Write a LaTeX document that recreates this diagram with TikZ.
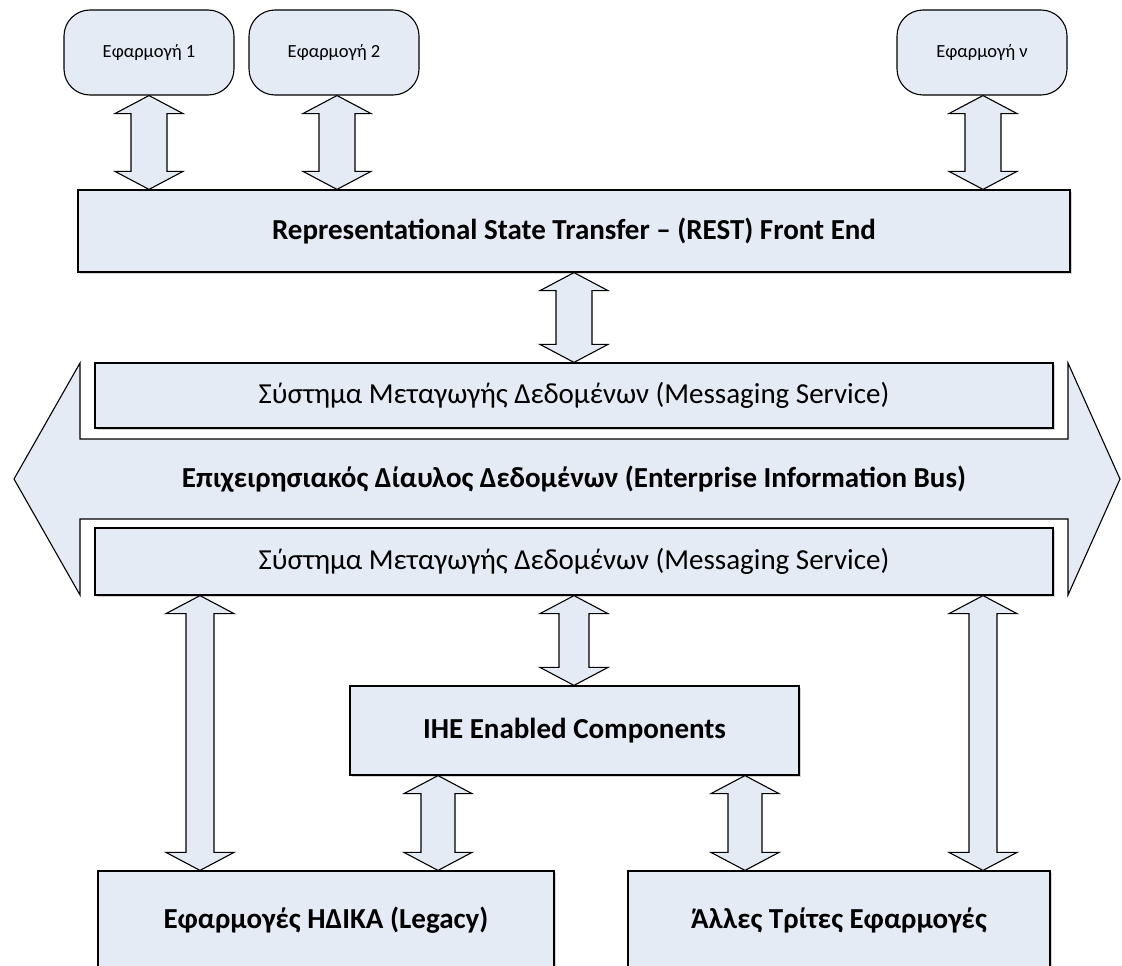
\documentclass[tikz,border=0pt]{standalone}
\usepackage{fontspec}
\setmainfont{Carlito}
\usetikzlibrary{positioning,shadows,calc}

\definecolor{boxfill}{RGB}{229,235,245}

\tikzset{
  box/.style={draw=black, fill=boxfill, line width=1.2pt, inner sep=0pt,
    drop shadow={shadow xshift=2pt, shadow yshift=-2pt, opacity=.35}},
  appbox/.style={draw=black, fill=boxfill, line width=1.1pt, inner sep=0pt,
    rounded corners=26pt, minimum width=170pt, minimum height=85pt,
    font=\fontsize{18.5}{22}\selectfont},
  blockarrow/.style={draw=black, fill=boxfill, line width=1.1pt, line join=miter},
  big/.style={font=\fontsize{29}{34}\selectfont\bfseries},
  plain/.style={font=\fontsize{29}{34}\selectfont},
}

% double block arrow: [half shaft]{x}{upper node}{lower node}
\newcommand{\dblarrow}[4][18]{%
  \draw[blockarrow] let \p1=(#3.south), \p2=(#4.north) in
    (#2pt,\y1) -- ({#2pt+34pt},{\y1-18pt}) -- ({#2pt+#1pt},{\y1-18pt})
    -- ({#2pt+#1pt},{\y2+18pt}) -- ({#2pt+34pt},{\y2+18pt}) -- (#2pt,\y2)
    -- ({#2pt-34pt},{\y2+18pt}) -- ({#2pt-#1pt},{\y2+18pt})
    -- ({#2pt-#1pt},{\y1-18pt}) -- ({#2pt-34pt},{\y1-18pt}) -- cycle;}

\begin{document}
\begin{tikzpicture}[x=1pt, y=-1pt]
  \useasboundingbox (0,0) rectangle (1122,966);

  % applications
  \node[appbox] (app1) at (149,52.5) {Εφαρμογή 1};
  \node[appbox] (app2) at (334,52.5) {Εφαρμογή 2};
  \node[appbox] (appn) at (982,52.5) {Εφαρμογή ν};

  % front end
  \node[box, big, minimum width=992pt, minimum height=82pt] (rest) at (574,231)
    {Representational State Transfer – (REST) Front End};

  % bus
  \draw[blockarrow] (14,479) -- (80,363) -- (80,439) -- (1068,439) -- (1068,363)
    -- (1120,479) -- (1068,595) -- (1068,519) -- (80,519) -- (80,595) -- cycle;
  \node[big] (bus) at (574,479)
    {Επιχειρησιακός Δίαυλος Δεδομένων (Enterprise Information Bus)};
  \node[box, plain, minimum width=958pt, minimum height=65pt] (msgtop) at (574,395.5)
    {Σύστημα Μεταγωγής Δεδομένων (Messaging Service)};
  \node[box, plain, minimum width=958pt, minimum height=67pt] (msgbot) at (574,561.5)
    {Σύστημα Μεταγωγής Δεδομένων (Messaging Service)};

  % components
  \node[box, big, minimum width=449pt, minimum height=89pt] (ihe) at (574.5,730.5)
    {IHE Enabled Components};
  \node[box, big, minimum width=456pt, minimum height=98pt] (legacy) at (326,920)
    {Εφαρμογές ΗΔΙΚΑ (Legacy)};
  \node[box, big, minimum width=422pt, minimum height=98pt] (others) at (839,920)
    {Άλλες Τρίτες Εφαρμογές};

  % arrows
  \dblarrow{149}{app1}{rest}
  \dblarrow{337}{app2}{rest}
  \dblarrow{983}{appn}{rest}
  \dblarrow{574}{rest}{msgtop}
  \dblarrow[14]{200}{msgbot}{legacy}
  \dblarrow[14]{983}{msgbot}{others}
  \dblarrow[15]{574}{msgbot}{ihe}
  \dblarrow[17]{438}{ihe}{legacy}
  \dblarrow[17]{745}{ihe}{others}
\end{tikzpicture}
\end{document}
